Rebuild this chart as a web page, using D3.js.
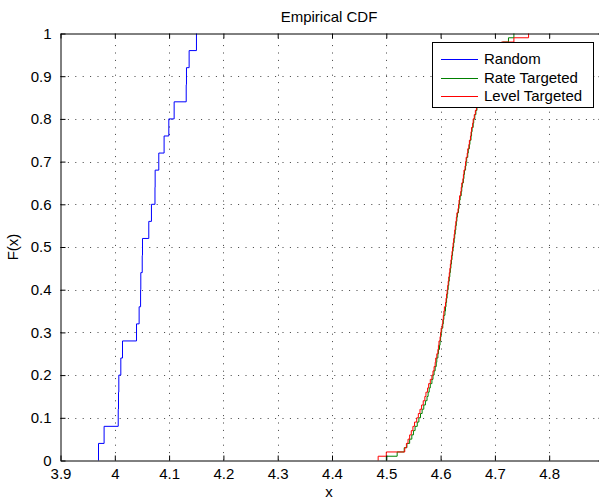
<!DOCTYPE html>
<html>
<head>
<meta charset="utf-8">
<script src="https://cdn.jsdelivr.net/npm/d3@7"></script>
<style>
  html, body { margin: 0; padding: 0; background: #fff; }
  svg { display: block; font-family: "Liberation Sans", Arial, sans-serif; }
</style>
</head>
<body>
<svg id="chart" width="599" height="502"></svg>
<script>
// Sorted sample values for each series (the empirical CDF steps up at each value)
const randomX = [3.970, 3.9803, 4.0063, 4.0068, 4.0074, 4.0111, 4.0142, 4.040, 4.0448,
  4.0475, 4.0479, 4.0505, 4.051, 4.0626, 4.0675, 4.074, 4.0743, 4.081, 4.0908, 4.0995,
  4.1093, 4.1315, 4.132, 4.1369, 4.1504];

const rateX = [
  4.500, 4.520, 4.533, 4.538, 4.543, 4.547, 4.550, 4.553, 4.557, 4.560,
  4.563, 4.566, 4.569, 4.572, 4.575, 4.577, 4.579, 4.581, 4.584, 4.586,
  4.588, 4.590, 4.592, 4.593, 4.595, 4.596, 4.598, 4.599, 4.600, 4.601,
  4.602, 4.604, 4.605, 4.606, 4.608, 4.609, 4.610, 4.611, 4.612, 4.613,
  4.614, 4.615, 4.616, 4.617, 4.618, 4.619, 4.620, 4.621, 4.622, 4.623,
  4.624, 4.625, 4.626, 4.627, 4.628, 4.629, 4.630, 4.631, 4.633, 4.634,
  4.635, 4.636, 4.638, 4.639, 4.640, 4.642, 4.643, 4.644, 4.646, 4.647,
  4.648, 4.650, 4.651, 4.653, 4.654, 4.656, 4.657, 4.658, 4.660, 4.661,
  4.663, 4.665, 4.667, 4.668, 4.670, 4.672, 4.674, 4.676, 4.679, 4.682,
  4.685, 4.688, 4.691, 4.694, 4.697, 4.700, 4.706, 4.714, 4.725, 4.735];

const levelX = [
  4.485, 4.500, 4.534, 4.537, 4.540, 4.543, 4.546, 4.549, 4.552, 4.556,
  4.559, 4.562, 4.565, 4.568, 4.571, 4.573, 4.576, 4.578, 4.581, 4.584,
  4.586, 4.588, 4.590, 4.591, 4.593, 4.595, 4.596, 4.597, 4.599, 4.600,
  4.601, 4.603, 4.604, 4.605, 4.606, 4.607, 4.609, 4.610, 4.611, 4.612,
  4.613, 4.614, 4.615, 4.616, 4.617, 4.618, 4.619, 4.620, 4.621, 4.622,
  4.623, 4.624, 4.625, 4.626, 4.627, 4.628, 4.629, 4.630, 4.632, 4.633,
  4.634, 4.635, 4.637, 4.638, 4.639, 4.641, 4.642, 4.643, 4.645, 4.646,
  4.647, 4.649, 4.650, 4.652, 4.653, 4.655, 4.656, 4.657, 4.659, 4.660,
  4.662, 4.664, 4.666, 4.667, 4.669, 4.671, 4.673, 4.675, 4.677, 4.680,
  4.683, 4.686, 4.689, 4.692, 4.695, 4.698, 4.703, 4.712, 4.735, 4.762];

const seriesNames = ["Random", "Rate Targeted", "Level Targeted"];
const seriesColors = ["#0000ff", "#008000", "#ff0000"];

const xTicks = [3.9, 4.0, 4.1, 4.2, 4.3, 4.4, 4.5, 4.6, 4.7, 4.8];
const yTicks = [0, 0.1, 0.2, 0.3, 0.4, 0.5, 0.6, 0.7, 0.8, 0.9, 1];

const svg = d3.select("#chart");
const W = 599, H = 502;
const pLeft = 60.5, pRight = 603.5, pTop = 33.5, pBottom = 460.5;
const fontPx = "15px";

const x = d3.scaleLinear().domain([3.9, 4.9]).range([pLeft, pRight]);
const y = d3.scaleLinear().domain([0, 1]).range([pBottom, pTop]);

svg.append("rect").attr("width", W).attr("height", H).attr("fill", "#fff");

// dotted grid
const grid = svg.append("g").attr("stroke", "#000").attr("stroke-width", 1)
  .attr("stroke-dasharray", "1,6.4").attr("opacity", 0.75);
xTicks.slice(1).forEach(t => {
  const px = Math.round(x(t)) + 0.5;
  grid.append("line").attr("x1", px).attr("x2", px).attr("y1", pBottom).attr("y2", pTop);
});
yTicks.slice(1, -1).forEach(t => {
  const py = Math.round(y(t)) + 0.5;
  grid.append("line").attr("x1", pLeft).attr("x2", pRight).attr("y1", py).attr("y2", py);
});

// step curves of the empirical CDF
function ecdfPoints(vals) {
  const n = vals.length;
  const pts = [[vals[0], 0]];
  vals.forEach((v, i) => pts.push([v, (i + 1) / n]));
  return pts;
}
const line = d3.line().x(d => x(d[0])).y(d => y(d[1])).curve(d3.curveStepAfter);
svg.append("clipPath").attr("id", "plotClip")
  .append("rect").attr("x", pLeft).attr("y", pTop - 1)
  .attr("width", pRight - pLeft).attr("height", pBottom - pTop + 2);
const curves = svg.append("g").attr("clip-path", "url(#plotClip)");
[randomX, rateX, levelX].forEach((vals, i) => {
  curves.append("path").attr("d", line(ecdfPoints(vals)))
    .attr("fill", "none").attr("stroke", seriesColors[i]).attr("stroke-width", 1);
});

// axes with inward ticks, box on all four sides
const tickLen = 5;
const xAxisB = d3.axisBottom(x).tickValues(xTicks).tickSizeInner(-tickLen).tickSizeOuter(0)
  .tickPadding(8).tickFormat(d3.format("~g"));
const xAxisT = d3.axisTop(x).tickValues(xTicks).tickSizeInner(-tickLen).tickSizeOuter(0).tickFormat("");
const yAxisL = d3.axisLeft(y).tickValues(yTicks).tickSizeInner(-tickLen).tickSizeOuter(0)
  .tickPadding(9).tickFormat(d3.format("~g"));
const yAxisR = d3.axisRight(y).tickValues(yTicks).tickSizeInner(-tickLen).tickSizeOuter(0).tickFormat("");

function styleAxis(g) {
  g.selectAll("path").attr("stroke", "#000");
  g.selectAll("line").attr("stroke", "#000");
  g.selectAll("text").attr("fill", "#000").style("font-size", fontPx)
    .style("font-family", "'Liberation Sans', Arial, sans-serif");
}
svg.append("g").attr("transform", `translate(0,${pBottom})`).call(xAxisB).call(styleAxis);
svg.append("g").attr("transform", `translate(0,${pTop})`).call(xAxisT).call(styleAxis);
svg.append("g").attr("transform", `translate(${pLeft},0)`).call(yAxisL).call(styleAxis);
svg.append("g").attr("transform", `translate(${pRight},0)`).call(yAxisR).call(styleAxis);

// titles
svg.append("text").attr("x", 329).attr("y", 22).attr("text-anchor", "middle")
  .style("font-size", "15px").text("Empirical CDF");
svg.append("text").attr("x", 329).attr("y", 497).attr("text-anchor", "middle")
  .style("font-size", fontPx).text("x");
svg.append("text").attr("transform", `translate(18,${(pTop + pBottom) / 2}) rotate(-90)`)
  .attr("text-anchor", "middle").style("font-size", fontPx).text("F(x)");

// legend
const lgLeft = 432, lgRight = 594, lgTop = 42, lgBottom = 108;
const lg = svg.append("g");
lg.append("rect").attr("x", lgLeft + 0.5).attr("y", lgTop + 0.5)
  .attr("width", lgRight - lgLeft - 1).attr("height", lgBottom - lgTop - 1)
  .attr("fill", "#fff").attr("stroke", "#000");
seriesNames.forEach((name, i) => {
  const cy = lgTop + 17 + i * 18.7;
  const lx = lgLeft + 9;
  lg.append("line").attr("x1", lx).attr("x2", lx + 37)
    .attr("y1", Math.round(cy) + 0.5).attr("y2", Math.round(cy) + 0.5)
    .attr("stroke", seriesColors[i]);
  lg.append("text").attr("x", lx + 43).attr("y", cy + 5)
    .style("font-size", fontPx).text(name);
});
</script>
</body>
</html>
